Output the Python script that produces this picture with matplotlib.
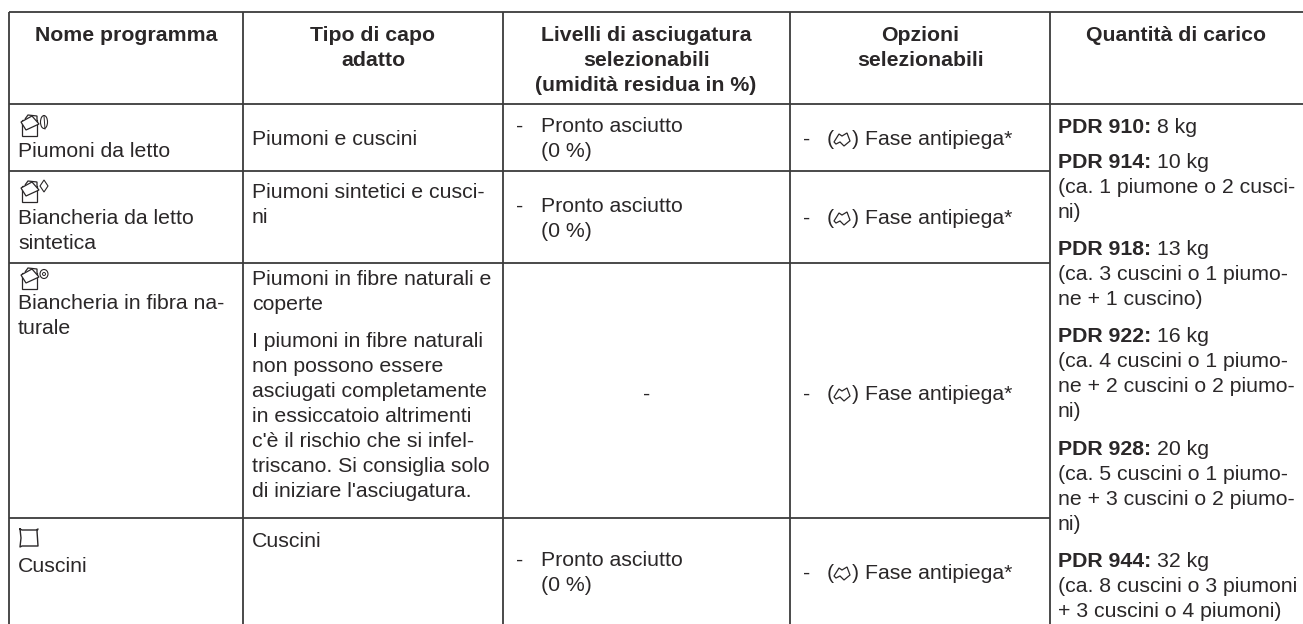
import matplotlib

matplotlib.use("Agg")
import matplotlib.pyplot as plt
from matplotlib.patches import Polygon, Rectangle, Ellipse

W, H = 1303, 624
INK = "#2a2728"
LINE = "#3c3c3c"
FS = 15.3

col_x = [9, 243, 503, 790, 1050]
row_y = [12, 104, 171, 263, 518]

headers = [
    (126, ["Nome programma"]),
    (373, ["Tipo di capo", "adatto"]),
    (646, ["Livelli di asciugatura", "selezionabili", "(umidità residua in %)"]),
    (920, ["Opzioni", "selezionabili"]),
    (1176, ["Quantità di carico"]),
]
header_base = [41, 66, 91]

program_names = [
    (157, "Piumoni da letto"),
    (224, "Biancheria da letto"),
    (249, "sintetica"),
    (309, "Biancheria in fibra na-"),
    (334, "turale"),
    (572, "Cuscini"),
]

garment_text = [
    (145, "Piumoni e cuscini"),
    (198, "Piumoni sintetici e cusci-"),
    (223, "ni"),
    (285, "Piumoni in fibre naturali e"),
    (310, "coperte"),
    (347, "I piumoni in fibre naturali"),
    (372, "non possono essere"),
    (397, "asciugati completamente"),
    (422, "in essiccatoio altrimenti"),
    (447, "c'è il rischio che si infel-"),
    (472, "triscano. Si consiglia solo"),
    (497, "di iniziare l'asciugatura."),
    (547, "Cuscini"),
]

dry_rows = [132, 212, 566]
dry_label = "Pronto asciutto"
dry_value = "(0 %)"
option_rows = [145, 224, 400, 579]
option_label = "Fase antipiega*"

loads = [
    (133, "PDR 910:", "8 kg"),
    (168, "PDR 914:", "10 kg"),
    (193, "", "(ca. 1 piumone o 2 cusci-"),
    (218, "", "ni)"),
    (255, "PDR 918:", "13 kg"),
    (280, "", "(ca. 3 cuscini o 1 piumo-"),
    (305, "", "ne + 1 cuscino)"),
    (342, "PDR 922:", "16 kg"),
    (367, "", "(ca. 4 cuscini o 1 piumo-"),
    (392, "", "ne + 2 cuscini o 2 piumo-"),
    (417, "", "ni)"),
    (455, "PDR 928:", "20 kg"),
    (480, "", "(ca. 5 cuscini o 1 piumo-"),
    (505, "", "ne + 3 cuscini o 2 piumo-"),
    (530, "", "ni)"),
    (567, "PDR 944:", "32 kg"),
    (592, "", "(ca. 8 cuscini o 3 piumoni"),
    (617, "", "+ 3 cuscini o 4 piumoni)"),
]

plt.rcParams["font.family"] = ["Liberation Sans", "DejaVu Sans"]
fig = plt.figure(figsize=(W / 100, H / 100), dpi=100)
ax = fig.add_axes([0, 0, 1, 1])
ax.set_xlim(0, W)
ax.set_ylim(H, 0)
ax.axis("off")


def put(x, y, s, weight="normal", ha="left"):
    ax.text(x, y, s, fontsize=FS, color=INK, weight=weight, ha=ha, va="baseline")


def duvet_icon(x, y):
    # x, y = top left corner of the drawer box
    ax.add_patch(Rectangle((x, y + 5), 15, 16, fc="none", ec=INK, lw=0.9))
    ax.add_patch(Polygon([(x + 3, y + 4), (x + 6, y), (x + 15, y + 1), (x + 15, y + 6)],
                         closed=False, fc="white", ec=INK, lw=0.9))
    ax.add_patch(Polygon([(x - 1, y + 7), (x + 10, y + 1), (x + 17, y + 9), (x + 4, y + 15)],
                         fc="white", ec=INK, lw=0.9))


def feather_icon(x, y):
    ax.add_patch(Ellipse((x, y), 7, 13, fc="none", ec=INK, lw=0.8))
    ax.plot([x, x + 1], [y - 6, y + 7], color=INK, lw=0.7)


def diamond_icon(x, y):
    ax.add_patch(Polygon([(x, y - 6), (x + 4, y), (x, y + 6), (x - 4, y)],
                         fc="none", ec=INK, lw=0.8))


def flower_icon(x, y):
    ax.add_patch(Ellipse((x, y), 8, 9, fc="none", ec=INK, lw=0.8))
    ax.add_patch(Ellipse((x, y), 3, 3, fc="none", ec=INK, lw=0.7))


def pillow_icon(x, y):
    xs = [x, x + 2, x + 16, x + 18, x + 17, x + 18, x + 16, x + 2, x, x + 1, x]
    ys = [y, y + 1, y + 1, y, y + 2, y + 17, y + 17, y + 17, y + 18, y + 9, y]
    ax.plot(xs, ys, color=INK, lw=1.0)


def crease_icon(x, y):
    # symbol of the anti-crease phase, in brackets
    ax.text(x, y, "(", fontsize=FS, color=INK, ha="left", va="baseline")
    ax.text(x + 25, y, ")", fontsize=FS, color=INK, ha="left", va="baseline")
    ax.add_patch(Polygon([(x + 7, y - 3), (x + 12, y - 11), (x + 15, y - 9), (x + 20, y - 12),
                          (x + 23, y - 4), (x + 17, y + 1), (x + 13, y - 3), (x + 9, y - 1)],
                         fc="none", ec=INK, lw=0.9))


# grid, the last column is one merged cell below the header
for y in row_y[:2]:
    ax.plot([col_x[0], W], [y, y], color=LINE, lw=1.3, solid_capstyle="butt")
for y in row_y[2:]:
    ax.plot([col_x[0], col_x[4]], [y, y], color=LINE, lw=1.3, solid_capstyle="butt")
for x in col_x:
    ax.plot([x, x], [row_y[0], H], color=LINE, lw=1.3, solid_capstyle="butt")

for cx, lines in headers:
    for base, s in zip(header_base, lines):
        put(cx, base, s, weight="bold", ha="center")

for y, s in program_names:
    put(18, y, s)
duvet_icon(22, 115)
feather_icon(44, 122)
duvet_icon(22, 181)
diamond_icon(44, 186)
duvet_icon(22, 268)
flower_icon(44, 274)
pillow_icon(20, 529)

for y, s in garment_text:
    put(252, y, s)

for y in dry_rows:
    put(516, y, "-")
    put(541, y, dry_label)
    put(541, y + 25, dry_value)
put(643, 400, "-")

for y in option_rows:
    put(803, y, "-")
    crease_icon(827, y)
    put(865, y, option_label)

for y, bold, rest in loads:
    if bold:
        put(1058, y, bold, weight="bold")
        put(1157, y, rest)
    else:
        put(1058, y, rest)

fig.savefig("out.png", dpi=100, facecolor="white")
